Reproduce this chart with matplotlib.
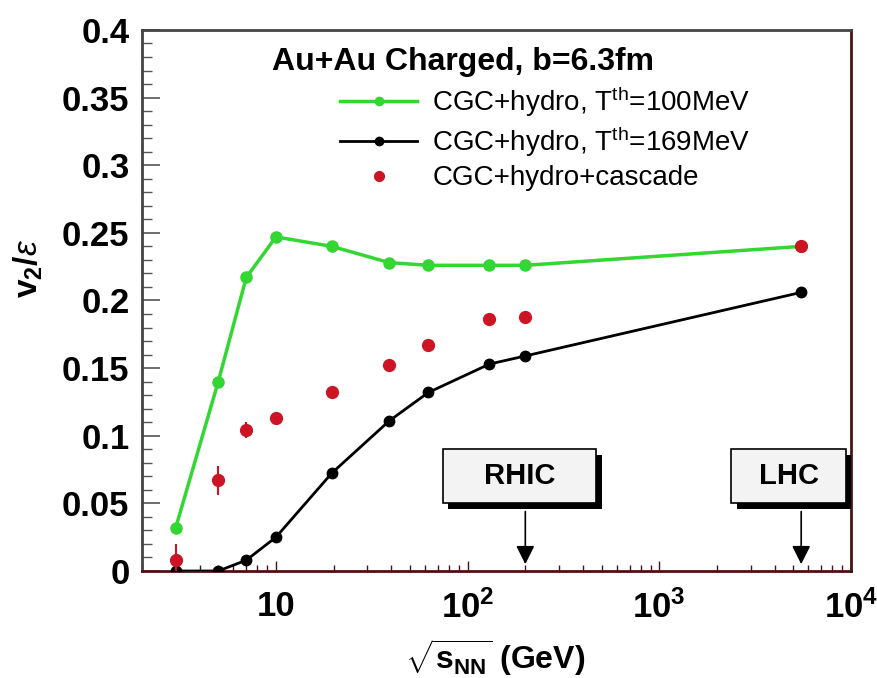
import numpy as np
import matplotlib
matplotlib.use('Agg')
import matplotlib.pyplot as plt
from matplotlib.lines import Line2D
from matplotlib.patches import Rectangle
import matplotlib.patheffects as pe

plt.rcParams['font.family'] = ['Liberation Sans', 'DejaVu Sans']
plt.rcParams['mathtext.fontset'] = 'custom'
plt.rcParams['mathtext.rm'] = 'Liberation Sans'
plt.rcParams['mathtext.it'] = 'Liberation Sans:italic'
plt.rcParams['mathtext.bf'] = 'Liberation Sans:bold'

# collision energies sqrt(s_NN) in GeV
energy = [3, 5, 7, 10, 19.6, 39, 62.4, 130, 200, 5500]

# v2/eps, CGC+hydro with T_th = 100 MeV
v2_t100 = [0.032, 0.140, 0.217, 0.247, 0.240, 0.228, 0.226, 0.226, 0.226, 0.240]
# v2/eps, CGC+hydro with T_th = 169 MeV
v2_t169 = [0.0, 0.0, 0.008, 0.025, 0.0725, 0.111, 0.132, 0.153, 0.159, 0.206]
# v2/eps, CGC+hydro+cascade, with errors
v2_casc = [0.008, 0.067, 0.104, 0.113, 0.132, 0.152, 0.167, 0.186, 0.188, 0.240]
v2_casc_err = [0.012, 0.011, 0.006, 0.004, 0.002, 0.002, 0.002, 0.002, 0.002, 0.002]

green = '#33d633'
red = '#cc1425'
maroon = '#4a1414'

fig = plt.figure(figsize=(8.78, 6.78), dpi=100)
ax = fig.add_axes([0.1617, 0.1578, 0.8075, 0.798])

ax.plot(energy, v2_t100, '-o', color=green, lw=2.5, ms=8, mec=green, mfc=green, zorder=3)
ax.plot(energy, v2_t169, '-o', color='black', lw=2.0, ms=7.5, zorder=4)
ax.errorbar(energy, v2_casc, yerr=v2_casc_err, fmt='o', color=red, ms=8.5,
            elinewidth=1.5, capsize=0, zorder=5)

ax.set_xscale('log')
ax.set_xlim(2, 1e4)
ax.set_ylim(0, 0.4)

ax.set_yticks(np.arange(0, 0.401, 0.05))
ax.set_yticklabels(['0', '0.05', '0.1', '0.15', '0.2', '0.25', '0.3', '0.35', '0.4'])
ax.set_yticks(np.arange(0, 0.401, 0.01), minor=True)
ax.set_xticks([10, 100, 1000, 10000])
ax.set_xticklabels(['10', r'$\mathbf{10^{2}}$', r'$\mathbf{10^{3}}$', r'$\mathbf{10^{4}}$'])

ax.tick_params(axis='both', which='both', direction='in', top=False, right=False)
ax.tick_params(axis='y', which='major', length=13, width=1.2, labelsize=25, pad=9, color='#555555')
ax.tick_params(axis='y', which='minor', length=7, width=1.0, color='#555555')
ax.tick_params(axis='x', which='major', length=7, width=1.0, labelsize=25, pad=14, color=maroon)
ax.tick_params(axis='x', which='minor', length=4, width=1.0, color=maroon)
for lab in ax.get_xticklabels() + ax.get_yticklabels():
    lab.set_fontweight('bold')

ax.spines['top'].set_color('#444444')
ax.spines['left'].set_color('#444444')
ax.spines['right'].set_color(maroon)
ax.spines['bottom'].set_color(maroon)
for s in ax.spines.values():
    s.set_linewidth(2)

ax.set_ylabel(r'$\mathbf{v_{2}/}\varepsilon$', fontsize=24)
ax.yaxis.set_label_coords(-0.137, 0.56)
ax.set_xlabel(r'$\sqrt{\mathbf{s_{NN}}}$ (GeV)', fontsize=23, fontweight='bold')
ax.xaxis.set_label_coords(0.498, -0.122)

# title and legend
ax.text(0.183, 0.941, 'Au+Au Charged, b=6.3fm', transform=ax.transAxes,
        fontsize=23, fontweight='bold', va='center', ha='left')
handles = [
    Line2D([], [], color=green, lw=2.5, marker='o', ms=6),
    Line2D([], [], color='black', lw=2.0, marker='o', ms=6),
    Line2D([], [], color=red, lw=0, marker='o', ms=7),
]
labels = [r'CGC+hydro, T$^{\mathrm{th}}$=100MeV', r'CGC+hydro, T$^{\mathrm{th}}$=169MeV',
          'CGC+hydro+cascade']
ax.legend(handles, labels, loc='upper left', bbox_to_anchor=(0.28, 0.9), frameon=False,
          fontsize=20, handlelength=2.75, handletextpad=0.55, labelspacing=0.22,
          borderpad=0, borderaxespad=0)

# RHIC / LHC markers
boxes = [('RHIC', 74.1, 470, 200), ('LHC', 2371, 9420, 5500)]
for name, x0, x1, xarrow in boxes:
    rect = Rectangle((x0, 0.05), x1 - x0, 0.04, facecolor='#f3f3f3', edgecolor='black',
                     lw=1.2, zorder=6)
    rect.set_path_effects([pe.SimplePatchShadow(offset=(4, -4), shadow_rgbFace='black', alpha=1),
                           pe.Normal()])
    ax.add_patch(rect)
    ax.text(np.sqrt(x0 * x1), 0.07, name, fontsize=21, fontweight='bold',
            ha='center', va='center', zorder=7)
    ax.annotate('', xy=(xarrow, 0.003), xytext=(xarrow, 0.046),
                arrowprops=dict(arrowstyle='-|>', color='black', lw=1.2, mutation_scale=28),
                zorder=6)

fig.savefig('out.png', dpi=100)
